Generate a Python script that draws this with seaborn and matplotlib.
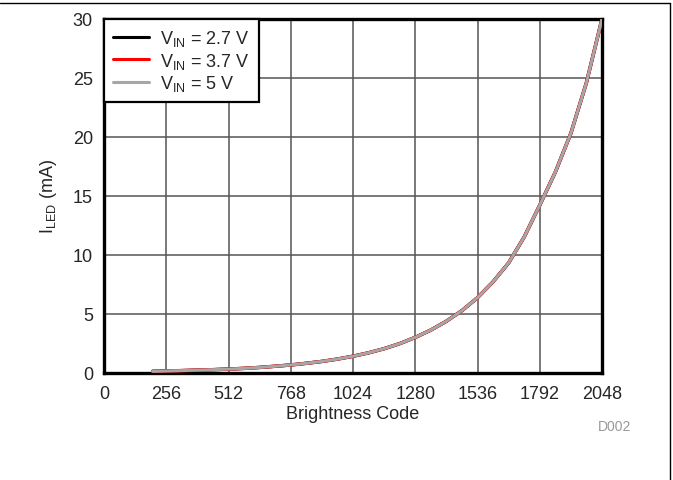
import numpy as np
import pandas as pd
import matplotlib
matplotlib.use("Agg")
import matplotlib.pyplot as plt
import seaborn as sns
from matplotlib.lines import Line2D

# ---- data ----
codes = [200, 256, 320, 384, 448, 512, 576, 640, 704, 768, 832, 896, 960, 1024,
         1088, 1152, 1216, 1280, 1344, 1408, 1472, 1536, 1600, 1664, 1728, 1792,
         1856, 1920, 1984, 2048]
i_27 = [0.10, 0.13, 0.16, 0.20, 0.24, 0.29, 0.35, 0.43, 0.53, 0.64, 0.78, 0.94,
        1.14, 1.38, 1.67, 2.02, 2.45, 2.98, 3.60, 4.35, 5.25, 6.35, 7.70, 9.30,
        11.5, 14.2, 17.0, 20.3, 24.6, 30.0]
i_37 = [0.10, 0.13, 0.16, 0.20, 0.24, 0.29, 0.35, 0.43, 0.53, 0.64, 0.78, 0.94,
        1.14, 1.38, 1.67, 2.02, 2.45, 2.98, 3.60, 4.35, 5.25, 6.35, 7.70, 9.30,
        11.5, 14.2, 17.0, 20.3, 24.6, 30.0]
i_5 = [0.10, 0.13, 0.16, 0.20, 0.24, 0.29, 0.35, 0.43, 0.53, 0.64, 0.78, 0.94,
       1.14, 1.38, 1.67, 2.02, 2.45, 2.98, 3.60, 4.35, 5.25, 6.35, 7.70, 9.30,
       11.5, 14.2, 17.0, 20.3, 24.6, 30.0]
series_labels = ["V$_{\\mathregular{IN}}$ = 2.7 V",
                 "V$_{\\mathregular{IN}}$ = 3.7 V",
                 "V$_{\\mathregular{IN}}$ = 5 V"]
series_colors = ["#000000", "#ff0000", "#a6a6a6"]
x_ticks = [0, 256, 512, 768, 1024, 1280, 1536, 1792, 2048]
y_ticks = [0, 5, 10, 15, 20, 25, 30]

df = pd.concat([
    pd.DataFrame({"code": codes, "current": vals, "series": lab})
    for vals, lab in zip([i_27, i_37, i_5], series_labels)
])

sns.set_style("white")
plt.rcParams["font.family"] = ["Liberation Sans", "DejaVu Sans"]
plt.rcParams["mathtext.default"] = "regular"

FS = 13

fig = plt.figure(figsize=(6.73, 4.81), dpi=100)
ax = fig.add_axes([104 / 673, 1 - 373.5 / 481, (602 - 104) / 673, (373.5 - 20) / 481])

widths = {series_labels[0]: 2.4, series_labels[1]: 2.5, series_labels[2]: 2.2}
for lab, col in zip(series_labels, series_colors):
    sns.lineplot(data=df[df["series"] == lab], x="code", y="current", ax=ax,
                 color=col, linewidth=widths[lab], legend=False, zorder=3)

ax.set_xlim(0, 2048)
ax.set_ylim(0, 30)
ax.set_xticks(x_ticks)
ax.set_yticks(y_ticks)
ax.set_xticklabels([str(t) for t in x_ticks], fontsize=FS)
ax.set_yticklabels([str(t) for t in y_ticks], fontsize=FS)
ax.tick_params(axis="both", length=0, pad=9)
ax.tick_params(axis="y", pad=8)
ax.grid(True, color="#555555", linewidth=1.1)
ax.set_axisbelow(True)
for s in ax.spines.values():
    s.set_visible(True)
    s.set_color("black")
    s.set_linewidth(2.4)

ax.set_xlabel("Brightness Code", fontsize=FS, labelpad=2)
ax.set_ylabel("I$_{LED}$ (mA)", fontsize=FS, labelpad=10)

handles = [Line2D([], [], color=c, linewidth=2.2) for c in series_colors]
leg = ax.legend(handles, series_labels, loc="upper left", fontsize=FS,
                frameon=True, fancybox=False, framealpha=1, edgecolor="black",
                borderaxespad=0, handlelength=2.0, handletextpad=0.6,
                labelspacing=0.15, borderpad=0.5)
leg.get_frame().set_linewidth(1.6)
leg.set_zorder(5)

fig.text(631 / 673, 1 - 427 / 481, "D002", fontsize=10, color="#999999",
         ha="right", va="center")

# figure border lines (top and right)
fig.add_artist(Line2D([0, 670 / 673], [1 - 4 / 481, 1 - 4 / 481],
                      transform=fig.transFigure, color="black", linewidth=1.0))
fig.add_artist(Line2D([670 / 673, 670 / 673], [0, 1 - 4 / 481],
                      transform=fig.transFigure, color="black", linewidth=1.0))

fig.savefig("out.png", dpi=100)
